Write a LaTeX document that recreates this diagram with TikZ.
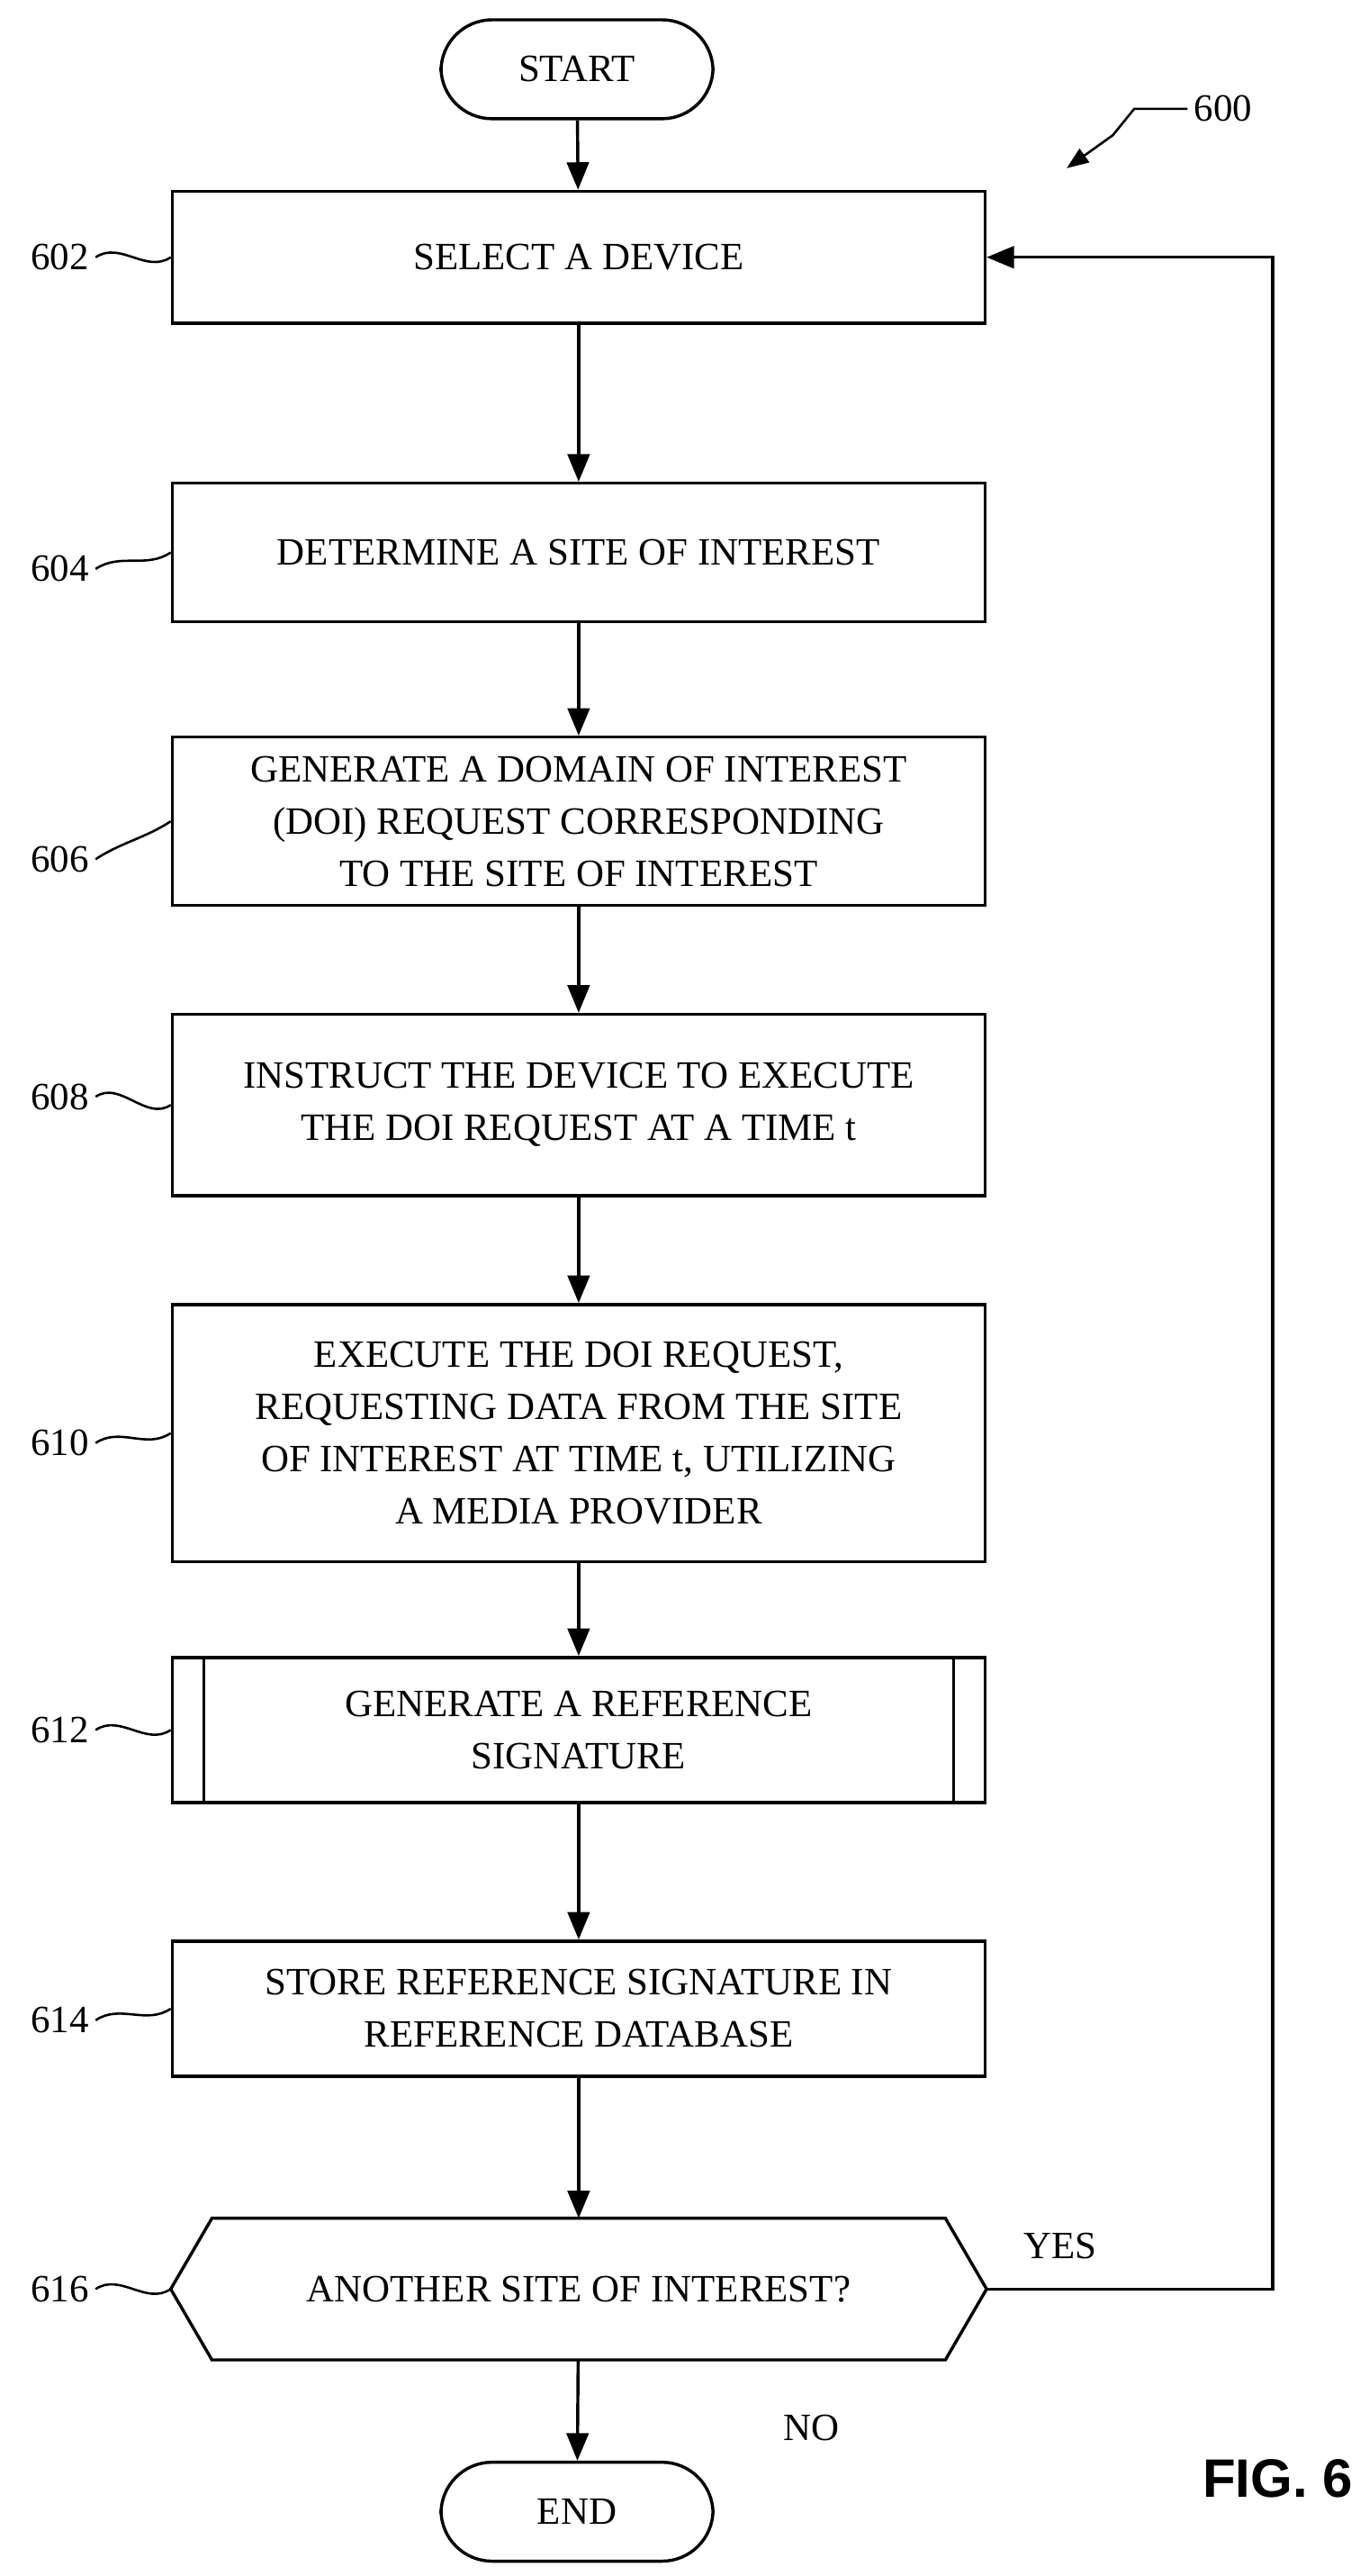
\documentclass[tikz,border=0pt]{standalone}
\usepackage{fontspec}
\setmainfont{Liberation Serif}
\newfontfamily\figfont{Liberation Sans}
\usetikzlibrary{arrows.meta}
\tikzset{
  box/.style={draw,line width=1.6pt,minimum width=14.79cm,align=center,inner sep=0pt,
    font=\fontsize{20}{27}\selectfont},
  term/.style={draw,line width=1.6pt,rounded corners=0.93cm,minimum width=4.95cm,minimum height=1.8cm,
    font=\fontsize{20}{24}\selectfont},
  flow/.style={line width=1.6pt,-{Triangle[length=0.5cm,width=0.4cm]}},
  ref/.style={font=\fontsize{20}{24}\selectfont},
  wig/.style={line width=1.2pt}
}
\begin{document}
\begin{tikzpicture}[x=0.03cm,y=-0.03cm]
\useasboundingbox (0,0) rectangle (830,1562);
%nodes
\node[term] (start) at (350,42) {START};
\node[box,minimum height=2.4cm] (s602) at (351,156) {SELECT A DEVICE};
\node[box,minimum height=2.52cm] (s604) at (351,335) {DETERMINE A SITE OF INTEREST};
\node[box,minimum height=3.06cm] (s606) at (351,498) {GENERATE A DOMAIN OF INTEREST\\(DOI) REQUEST CORRESPONDING\\TO THE SITE OF INTEREST};
\node[box,minimum height=3.3cm] (s608) at (351,670) {INSTRUCT THE DEVICE TO EXECUTE\\THE DOI REQUEST AT A TIME t};
\node[box,minimum height=4.68cm] (s610) at (351,869) {EXECUTE THE DOI REQUEST,\\REQUESTING DATA FROM THE SITE\\OF INTEREST AT TIME t, UTILIZING\\A MEDIA PROVIDER};
\node[box,minimum height=2.64cm] (s612) at (351,1049) {GENERATE A REFERENCE\\SIGNATURE};
\node[box,minimum height=2.46cm] (s614) at (351,1218) {STORE REFERENCE SIGNATURE IN\\REFERENCE DATABASE};
\node[box,draw=none,minimum height=2.52cm] (s616) at (351,1388) {ANOTHER SITE OF INTEREST?};
\node[term] (end) at (350,1523) {END};
%subprocess bars and decision outline
\draw[line width=1.6pt] ([xshift=0.6cm]s612.north west)--([xshift=0.6cm]s612.south west);
\draw[line width=1.6pt] ([xshift=-0.6cm]s612.north east)--([xshift=-0.6cm]s612.south east);
\draw[line width=1.6pt] (s616.west)--([xshift=0.75cm]s616.north west)--([xshift=-0.75cm]s616.north east)
  --(s616.east)--([xshift=-0.75cm]s616.south east)--([xshift=0.75cm]s616.south west)--cycle;
%connectors
\draw[flow] (start)--(s602);
\draw[flow] (s602)--(s604);
\draw[flow] (s604)--(s606);
\draw[flow] (s606)--(s608);
\draw[flow] (s608)--(s610);
\draw[flow] (s610)--(s612);
\draw[flow] (s612)--(s614);
\draw[flow] (s614)--(s616);
\draw[flow] (s616)--(end);
\coordinate (loopB) at (772,1388);
\coordinate (loopT) at (772,156);
\draw[flow] (s616.east)--(loopB)--(loopT)--(s602.east);
\node[ref] (yes) at (643,1362) {YES};
\node[ref] (no) at (492,1472) {NO};
%reference numerals
\foreach \n/\y in {602/156,604/345,606/521,608/665,610/875,612/1049,614/1225,616/1388}{
  \node[ref,anchor=east] (r\n) at (58,\y) {\n};
  \draw[wig] (r\n.east) .. controls +(15,-10) and +(-15,10) .. (s\n.west);
}
\node[ref] (r600) at (742,66) {600};
\coordinate (a600) at (647,102);
\draw[wig,-{Triangle[length=0.4cm,width=0.3cm]}] (r600.west) -- (688,66) -- (675,82) -- (a600);
\node[font=\figfont\bfseries\fontsize{28}{32}\selectfont] (fig) at (775,1503) {FIG. 6};
\end{tikzpicture}
\end{document}
